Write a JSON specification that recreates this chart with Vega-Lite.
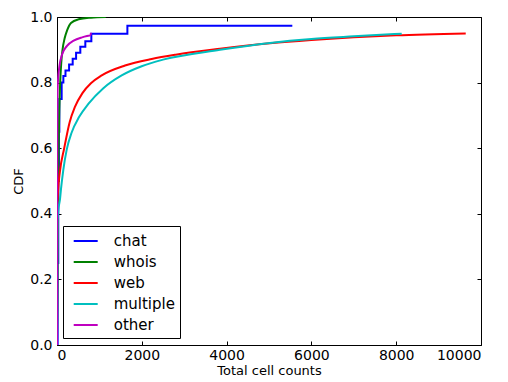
{
  "$schema": "https://vega.github.io/schema/vega-lite/v6.json",
  "width": 424,
  "height": 328,
  "autosize": "none",
  "padding": {"left": 57, "top": 17, "right": 27, "bottom": 37},
  "background": "white",
  "config": {
    "view": {"stroke": "black", "strokeWidth": 1},
    "font": "DejaVu Sans",
    "axis": {
      "grid": false,
      "domain": false,
      "tickColor": "black",
      "tickSize": -4,
      "tickWidth": 1,
      "labelColor": "black",
      "labelFont": "DejaVu Sans",
      "labelFontSize": 14,
      "titleFont": "DejaVu Sans",
      "titleFontSize": 13,
      "titleFontWeight": "normal",
      "titleColor": "black"
    },
    "legend": {
      "labelFont": "DejaVu Sans",
      "labelFontSize": 15,
      "labelColor": "black"
    }
  },
  "data": {
    "values": [
      {"s": "chat", "x": 0, "y": 0},
      {"s": "chat", "x": 15, "y": 0.25},
      {"s": "chat", "x": 30, "y": 0.5},
      {"s": "chat", "x": 45, "y": 0.65},
      {"s": "chat", "x": 55, "y": 0.75},
      {"s": "chat", "x": 110, "y": 0.8},
      {"s": "chat", "x": 150, "y": 0.82},
      {"s": "chat", "x": 200, "y": 0.837},
      {"s": "chat", "x": 285, "y": 0.855},
      {"s": "chat", "x": 370, "y": 0.873},
      {"s": "chat", "x": 450, "y": 0.891},
      {"s": "chat", "x": 550, "y": 0.909},
      {"s": "chat", "x": 668, "y": 0.926},
      {"s": "chat", "x": 810, "y": 0.949},
      {"s": "chat", "x": 1660, "y": 0.973},
      {"s": "chat", "x": 5550, "y": 0.973},

      {"s": "whois", "x": 0, "y": 0},
      {"s": "whois", "x": 10, "y": 0.2},
      {"s": "whois", "x": 25, "y": 0.45},
      {"s": "whois", "x": 40, "y": 0.62},
      {"s": "whois", "x": 55, "y": 0.72},
      {"s": "whois", "x": 75, "y": 0.8},
      {"s": "whois", "x": 100, "y": 0.86},
      {"s": "whois", "x": 130, "y": 0.9},
      {"s": "whois", "x": 180, "y": 0.935},
      {"s": "whois", "x": 240, "y": 0.96},
      {"s": "whois", "x": 330, "y": 0.982},
      {"s": "whois", "x": 510, "y": 0.993},
      {"s": "whois", "x": 800, "y": 0.998},
      {"s": "whois", "x": 1150, "y": 1.0},

      {"s": "web", "x": 0, "y": 0},
      {"s": "web", "x": 3, "y": 0.25},
      {"s": "web", "x": 8, "y": 0.42},
      {"s": "web", "x": 25, "y": 0.47},
      {"s": "web", "x": 70, "y": 0.53},
      {"s": "web", "x": 170, "y": 0.6},
      {"s": "web", "x": 300, "y": 0.68},
      {"s": "web", "x": 420, "y": 0.725},
      {"s": "web", "x": 600, "y": 0.768},
      {"s": "web", "x": 800, "y": 0.798},
      {"s": "web", "x": 1054, "y": 0.822},
      {"s": "web", "x": 1604, "y": 0.852},
      {"s": "web", "x": 2233, "y": 0.872},
      {"s": "web", "x": 2800, "y": 0.885},
      {"s": "web", "x": 3844, "y": 0.903},
      {"s": "web", "x": 5024, "y": 0.92},
      {"s": "web", "x": 6000, "y": 0.93},
      {"s": "web", "x": 7000, "y": 0.938},
      {"s": "web", "x": 8000, "y": 0.944},
      {"s": "web", "x": 9640, "y": 0.95},

      {"s": "multiple", "x": 0, "y": 0},
      {"s": "multiple", "x": 5, "y": 0.2},
      {"s": "multiple", "x": 15, "y": 0.38},
      {"s": "multiple", "x": 40, "y": 0.42},
      {"s": "multiple", "x": 71, "y": 0.445},
      {"s": "multiple", "x": 94, "y": 0.475},
      {"s": "multiple", "x": 149, "y": 0.534},
      {"s": "multiple", "x": 228, "y": 0.595},
      {"s": "multiple", "x": 346, "y": 0.648},
      {"s": "multiple", "x": 520, "y": 0.695},
      {"s": "multiple", "x": 739, "y": 0.735},
      {"s": "multiple", "x": 1093, "y": 0.783},
      {"s": "multiple", "x": 1525, "y": 0.822},
      {"s": "multiple", "x": 1997, "y": 0.85},
      {"s": "multiple", "x": 2500, "y": 0.87},
      {"s": "multiple", "x": 3844, "y": 0.9},
      {"s": "multiple", "x": 5024, "y": 0.921},
      {"s": "multiple", "x": 6000, "y": 0.933},
      {"s": "multiple", "x": 7000, "y": 0.941},
      {"s": "multiple", "x": 8130, "y": 0.949},

      {"s": "other", "x": 0, "y": 0},
      {"s": "other", "x": 3, "y": 0.3},
      {"s": "other", "x": 6, "y": 0.6},
      {"s": "other", "x": 10, "y": 0.75},
      {"s": "other", "x": 20, "y": 0.8},
      {"s": "other", "x": 55, "y": 0.848},
      {"s": "other", "x": 118, "y": 0.885},
      {"s": "other", "x": 236, "y": 0.912},
      {"s": "other", "x": 393, "y": 0.928},
      {"s": "other", "x": 590, "y": 0.938},
      {"s": "other", "x": 708, "y": 0.942},
      {"s": "other", "x": 790, "y": 0.944},
      {"s": "other", "x": 800, "y": 0.952}
    ]
  },
  "layer": [
    {
      "transform": [{"filter": "datum.s === 'chat'"}],
      "mark": {"type": "line", "interpolate": "step-after", "strokeWidth": 2, "clip": true},
      "encoding": {
        "x": {
          "field": "x", "type": "quantitative",
          "scale": {"domain": [0, 10000], "nice": false, "zero": false},
          "axis": {"orient": "bottom", "values": [0, 2000, 4000, 6000, 8000, 10000], "format": "d", "title": "Total cell counts", "labelPadding": 7, "titlePadding": 2}
        },
        "y": {
          "field": "y", "type": "quantitative",
          "scale": {"domain": [0, 1], "nice": false},
          "axis": {"orient": "left", "values": [0, 0.2, 0.4, 0.6, 0.8, 1.0], "format": ".1f", "title": "CDF", "labelPadding": 9, "titlePadding": 4}
        },
        "color": {
          "field": "s", "type": "nominal",
          "scale": {"domain": ["chat", "whois", "web", "multiple", "other"], "range": ["#0000ff", "#008000", "#ff0000", "#00bfbf", "#bf00bf"]},
          "legend": {
            "title": null,
            "orient": "none",
            "legendX": 6,
            "legendY": 209,
            "padding": 5,
            "strokeColor": "black",
            "fillColor": "white",
            "cornerRadius": 0,
            "symbolType": "M-1.333,0H1.333",
            "symbolSize": 324,
            "symbolStrokeWidth": 2,
            "symbolOffset": 7.7,
            "labelOffset": 18,
            "rowPadding": 3
          }
        }
      }
    },
    {
      "transform": [{"filter": "datum.s !== 'chat'"}],
      "mark": {"type": "line", "interpolate": "monotone", "strokeWidth": 2, "clip": true},
      "encoding": {
        "x": {
          "field": "x", "type": "quantitative",
          "scale": {"domain": [0, 10000], "nice": false, "zero": false},
          "axis": {"orient": "top", "values": [0, 2000, 4000, 6000, 8000, 10000], "labels": false, "title": null}
        },
        "y": {
          "field": "y", "type": "quantitative",
          "scale": {"domain": [0, 1], "nice": false},
          "axis": {"orient": "right", "values": [0, 0.2, 0.4, 0.6, 0.8, 1.0], "labels": false, "title": null}
        },
        "color": {
          "field": "s", "type": "nominal",
          "scale": {"domain": ["chat", "whois", "web", "multiple", "other"], "range": ["#0000ff", "#008000", "#ff0000", "#00bfbf", "#bf00bf"]}
        }
      }
    }
  ],
  "resolve": {"axis": {"x": "independent", "y": "independent"}}
}
